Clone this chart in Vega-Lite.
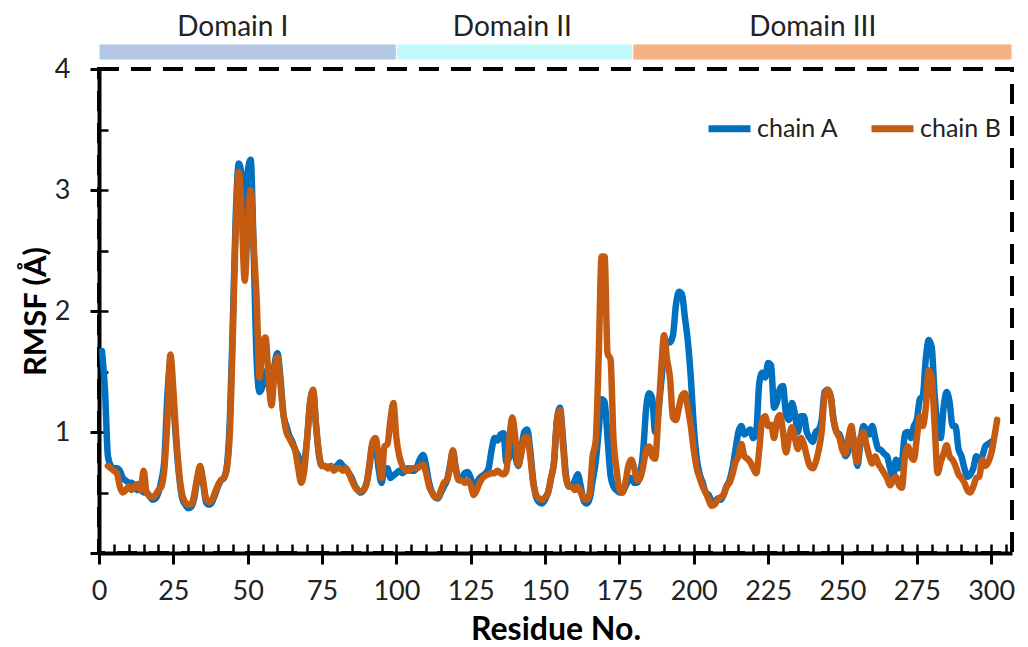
{
"$schema": "https://vega.github.io/schema/vega-lite/v6.json",
"width": 913, "height": 484,
"autosize": {"type": "none"},
"padding": {"left": 99, "top": 69, "right": 16, "bottom": 94},
"background": "white",
"config": {"font": "Lato", "view": {"stroke": "black", "strokeWidth": 4, "strokeDash": [20, 12]}, "axis": {"grid": false}},
"datasets": {
"domains": [
{"domain": "Domain I", "start": 0, "end": 100, "label_at": 45},
{"domain": "Domain II", "start": 100, "end": 179.5, "label_at": 139},
{"domain": "Domain III", "start": 179.5, "end": 307, "label_at": 240}
],
"rmsf": [
{"r":1,"c":"chain A","v":1.67},{"r":2,"c":"chain A","v":1.35},{"r":3,"c":"chain A","v":0.80},{"r":4,"c":"chain A","v":0.72},{"r":5,"c":"chain A","v":0.70},{"r":6,"c":"chain A","v":0.70},{"r":7,"c":"chain A","v":0.68},{"r":8,"c":"chain A","v":0.62},{"r":9,"c":"chain A","v":0.60},{"r":10,"c":"chain A","v":0.58},
{"r":11,"c":"chain A","v":0.58},{"r":12,"c":"chain A","v":0.55},{"r":13,"c":"chain A","v":0.52},{"r":14,"c":"chain A","v":0.52},{"r":15,"c":"chain A","v":0.50},{"r":16,"c":"chain A","v":0.50},{"r":17,"c":"chain A","v":0.47},{"r":18,"c":"chain A","v":0.44},{"r":19,"c":"chain A","v":0.45},{"r":20,"c":"chain A","v":0.50},
{"r":21,"c":"chain A","v":0.60},{"r":22,"c":"chain A","v":0.78},{"r":23,"c":"chain A","v":1.30},{"r":24,"c":"chain A","v":1.58},{"r":25,"c":"chain A","v":1.25},{"r":26,"c":"chain A","v":0.90},{"r":27,"c":"chain A","v":0.62},{"r":28,"c":"chain A","v":0.45},{"r":29,"c":"chain A","v":0.40},{"r":30,"c":"chain A","v":0.37},
{"r":31,"c":"chain A","v":0.38},{"r":32,"c":"chain A","v":0.45},{"r":33,"c":"chain A","v":0.60},{"r":34,"c":"chain A","v":0.70},{"r":35,"c":"chain A","v":0.58},{"r":36,"c":"chain A","v":0.42},{"r":37,"c":"chain A","v":0.40},{"r":38,"c":"chain A","v":0.42},{"r":39,"c":"chain A","v":0.48},{"r":40,"c":"chain A","v":0.55},
{"r":41,"c":"chain A","v":0.60},{"r":42,"c":"chain A","v":0.62},{"r":43,"c":"chain A","v":0.72},{"r":44,"c":"chain A","v":1.10},{"r":45,"c":"chain A","v":1.90},{"r":46,"c":"chain A","v":2.80},{"r":47,"c":"chain A","v":3.22},{"r":48,"c":"chain A","v":3.10},{"r":49,"c":"chain A","v":2.35},{"r":50,"c":"chain A","v":3.15},
{"r":51,"c":"chain A","v":3.25},{"r":52,"c":"chain A","v":2.50},{"r":53,"c":"chain A","v":1.60},{"r":54,"c":"chain A","v":1.33},{"r":55,"c":"chain A","v":1.38},{"r":56,"c":"chain A","v":1.50},{"r":57,"c":"chain A","v":1.40},{"r":58,"c":"chain A","v":1.30},{"r":59,"c":"chain A","v":1.55},{"r":60,"c":"chain A","v":1.65},
{"r":61,"c":"chain A","v":1.45},{"r":62,"c":"chain A","v":1.15},{"r":63,"c":"chain A","v":1.05},{"r":64,"c":"chain A","v":0.97},{"r":65,"c":"chain A","v":0.92},{"r":66,"c":"chain A","v":0.85},{"r":67,"c":"chain A","v":0.80},{"r":68,"c":"chain A","v":0.70},{"r":69,"c":"chain A","v":0.75},{"r":70,"c":"chain A","v":0.95},
{"r":71,"c":"chain A","v":1.25},{"r":72,"c":"chain A","v":1.33},{"r":73,"c":"chain A","v":1.05},{"r":74,"c":"chain A","v":0.80},{"r":75,"c":"chain A","v":0.72},{"r":76,"c":"chain A","v":0.72},{"r":77,"c":"chain A","v":0.70},{"r":78,"c":"chain A","v":0.72},{"r":79,"c":"chain A","v":0.70},{"r":80,"c":"chain A","v":0.72},
{"r":81,"c":"chain A","v":0.75},{"r":82,"c":"chain A","v":0.72},{"r":83,"c":"chain A","v":0.70},{"r":84,"c":"chain A","v":0.66},{"r":85,"c":"chain A","v":0.62},{"r":86,"c":"chain A","v":0.56},{"r":87,"c":"chain A","v":0.52},{"r":88,"c":"chain A","v":0.50},{"r":89,"c":"chain A","v":0.52},{"r":90,"c":"chain A","v":0.58},
{"r":91,"c":"chain A","v":0.72},{"r":92,"c":"chain A","v":0.90},{"r":93,"c":"chain A","v":0.90},{"r":94,"c":"chain A","v":0.70},{"r":95,"c":"chain A","v":0.58},{"r":96,"c":"chain A","v":0.70},{"r":97,"c":"chain A","v":0.70},{"r":98,"c":"chain A","v":0.62},{"r":99,"c":"chain A","v":0.64},{"r":100,"c":"chain A","v":0.66},
{"r":101,"c":"chain A","v":0.68},{"r":102,"c":"chain A","v":0.66},{"r":103,"c":"chain A","v":0.68},{"r":104,"c":"chain A","v":0.70},{"r":105,"c":"chain A","v":0.68},{"r":106,"c":"chain A","v":0.68},{"r":107,"c":"chain A","v":0.72},{"r":108,"c":"chain A","v":0.78},{"r":109,"c":"chain A","v":0.81},{"r":110,"c":"chain A","v":0.72},
{"r":111,"c":"chain A","v":0.58},{"r":112,"c":"chain A","v":0.50},{"r":113,"c":"chain A","v":0.46},{"r":114,"c":"chain A","v":0.45},{"r":115,"c":"chain A","v":0.50},{"r":116,"c":"chain A","v":0.55},{"r":117,"c":"chain A","v":0.60},{"r":118,"c":"chain A","v":0.72},{"r":119,"c":"chain A","v":0.84},{"r":120,"c":"chain A","v":0.70},
{"r":121,"c":"chain A","v":0.62},{"r":122,"c":"chain A","v":0.62},{"r":123,"c":"chain A","v":0.66},{"r":124,"c":"chain A","v":0.67},{"r":125,"c":"chain A","v":0.62},{"r":126,"c":"chain A","v":0.55},{"r":127,"c":"chain A","v":0.58},{"r":128,"c":"chain A","v":0.62},{"r":129,"c":"chain A","v":0.64},{"r":130,"c":"chain A","v":0.66},
{"r":131,"c":"chain A","v":0.70},{"r":132,"c":"chain A","v":0.85},{"r":133,"c":"chain A","v":0.95},{"r":134,"c":"chain A","v":0.93},{"r":135,"c":"chain A","v":0.98},{"r":136,"c":"chain A","v":0.99},{"r":137,"c":"chain A","v":0.75},{"r":138,"c":"chain A","v":0.80},{"r":139,"c":"chain A","v":0.95},{"r":140,"c":"chain A","v":0.80},
{"r":141,"c":"chain A","v":0.72},{"r":142,"c":"chain A","v":0.85},{"r":143,"c":"chain A","v":1.00},{"r":144,"c":"chain A","v":1.02},{"r":145,"c":"chain A","v":0.85},{"r":146,"c":"chain A","v":0.60},{"r":147,"c":"chain A","v":0.46},{"r":148,"c":"chain A","v":0.42},{"r":149,"c":"chain A","v":0.41},{"r":150,"c":"chain A","v":0.44},
{"r":151,"c":"chain A","v":0.50},{"r":152,"c":"chain A","v":0.62},{"r":153,"c":"chain A","v":0.75},{"r":154,"c":"chain A","v":1.10},{"r":155,"c":"chain A","v":1.20},{"r":156,"c":"chain A","v":0.95},{"r":157,"c":"chain A","v":0.65},{"r":158,"c":"chain A","v":0.55},{"r":159,"c":"chain A","v":0.55},{"r":160,"c":"chain A","v":0.60},
{"r":161,"c":"chain A","v":0.65},{"r":162,"c":"chain A","v":0.55},{"r":163,"c":"chain A","v":0.43},{"r":164,"c":"chain A","v":0.41},{"r":165,"c":"chain A","v":0.45},{"r":166,"c":"chain A","v":0.60},{"r":167,"c":"chain A","v":0.75},{"r":168,"c":"chain A","v":1.00},{"r":169,"c":"chain A","v":1.27},{"r":170,"c":"chain A","v":1.25},
{"r":171,"c":"chain A","v":0.95},{"r":172,"c":"chain A","v":0.64},{"r":173,"c":"chain A","v":0.55},{"r":174,"c":"chain A","v":0.52},{"r":175,"c":"chain A","v":0.50},{"r":176,"c":"chain A","v":0.50},{"r":177,"c":"chain A","v":0.55},{"r":178,"c":"chain A","v":0.60},{"r":179,"c":"chain A","v":0.62},{"r":180,"c":"chain A","v":0.58},
{"r":181,"c":"chain A","v":0.58},{"r":182,"c":"chain A","v":0.65},{"r":183,"c":"chain A","v":0.85},{"r":184,"c":"chain A","v":1.20},{"r":185,"c":"chain A","v":1.32},{"r":186,"c":"chain A","v":1.28},{"r":187,"c":"chain A","v":1.00},{"r":188,"c":"chain A","v":1.15},{"r":189,"c":"chain A","v":1.40},{"r":190,"c":"chain A","v":1.65},
{"r":191,"c":"chain A","v":1.75},{"r":192,"c":"chain A","v":1.74},{"r":193,"c":"chain A","v":1.80},{"r":194,"c":"chain A","v":2.05},{"r":195,"c":"chain A","v":2.16},{"r":196,"c":"chain A","v":2.14},{"r":197,"c":"chain A","v":1.95},{"r":198,"c":"chain A","v":1.75},{"r":199,"c":"chain A","v":1.45},{"r":200,"c":"chain A","v":1.05},
{"r":201,"c":"chain A","v":0.78},{"r":202,"c":"chain A","v":0.65},{"r":203,"c":"chain A","v":0.58},{"r":204,"c":"chain A","v":0.50},{"r":205,"c":"chain A","v":0.48},{"r":206,"c":"chain A","v":0.43},{"r":207,"c":"chain A","v":0.42},{"r":208,"c":"chain A","v":0.45},{"r":209,"c":"chain A","v":0.44},{"r":210,"c":"chain A","v":0.48},
{"r":211,"c":"chain A","v":0.55},{"r":212,"c":"chain A","v":0.60},{"r":213,"c":"chain A","v":0.70},{"r":214,"c":"chain A","v":0.85},{"r":215,"c":"chain A","v":1.00},{"r":216,"c":"chain A","v":1.05},{"r":217,"c":"chain A","v":0.98},{"r":218,"c":"chain A","v":1.00},{"r":219,"c":"chain A","v":1.02},{"r":220,"c":"chain A","v":0.95},
{"r":221,"c":"chain A","v":1.00},{"r":222,"c":"chain A","v":1.40},{"r":223,"c":"chain A","v":1.49},{"r":224,"c":"chain A","v":1.45},{"r":225,"c":"chain A","v":1.57},{"r":226,"c":"chain A","v":1.55},{"r":227,"c":"chain A","v":1.20},{"r":228,"c":"chain A","v":1.25},{"r":229,"c":"chain A","v":1.36},{"r":230,"c":"chain A","v":1.38},
{"r":231,"c":"chain A","v":1.15},{"r":232,"c":"chain A","v":1.10},{"r":233,"c":"chain A","v":1.24},{"r":234,"c":"chain A","v":1.15},{"r":235,"c":"chain A","v":1.00},{"r":236,"c":"chain A","v":1.13},{"r":237,"c":"chain A","v":1.13},{"r":238,"c":"chain A","v":1.00},{"r":239,"c":"chain A","v":0.95},{"r":240,"c":"chain A","v":0.92},
{"r":241,"c":"chain A","v":1.00},{"r":242,"c":"chain A","v":1.02},{"r":243,"c":"chain A","v":1.10},{"r":244,"c":"chain A","v":1.33},{"r":245,"c":"chain A","v":1.35},{"r":246,"c":"chain A","v":1.30},{"r":247,"c":"chain A","v":1.10},{"r":248,"c":"chain A","v":1.00},{"r":249,"c":"chain A","v":0.98},{"r":250,"c":"chain A","v":0.90},
{"r":251,"c":"chain A","v":0.80},{"r":252,"c":"chain A","v":0.85},{"r":253,"c":"chain A","v":1.00},{"r":254,"c":"chain A","v":0.90},{"r":255,"c":"chain A","v":0.72},{"r":256,"c":"chain A","v":0.90},{"r":257,"c":"chain A","v":1.05},{"r":258,"c":"chain A","v":1.02},{"r":259,"c":"chain A","v":0.98},{"r":260,"c":"chain A","v":1.05},
{"r":261,"c":"chain A","v":0.95},{"r":262,"c":"chain A","v":0.86},{"r":263,"c":"chain A","v":0.85},{"r":264,"c":"chain A","v":0.82},{"r":265,"c":"chain A","v":0.80},{"r":266,"c":"chain A","v":0.70},{"r":267,"c":"chain A","v":0.63},{"r":268,"c":"chain A","v":0.77},{"r":269,"c":"chain A","v":0.70},{"r":270,"c":"chain A","v":0.75},
{"r":271,"c":"chain A","v":0.99},{"r":272,"c":"chain A","v":1.00},{"r":273,"c":"chain A","v":0.95},{"r":274,"c":"chain A","v":1.05},{"r":275,"c":"chain A","v":1.10},{"r":276,"c":"chain A","v":1.27},{"r":277,"c":"chain A","v":1.30},{"r":278,"c":"chain A","v":1.60},{"r":279,"c":"chain A","v":1.76},{"r":280,"c":"chain A","v":1.70},
{"r":281,"c":"chain A","v":1.30},{"r":282,"c":"chain A","v":1.05},{"r":283,"c":"chain A","v":0.95},{"r":284,"c":"chain A","v":1.20},{"r":285,"c":"chain A","v":1.33},{"r":286,"c":"chain A","v":1.25},{"r":287,"c":"chain A","v":1.05},{"r":288,"c":"chain A","v":1.05},{"r":289,"c":"chain A","v":0.86},{"r":290,"c":"chain A","v":0.80},
{"r":291,"c":"chain A","v":0.70},{"r":292,"c":"chain A","v":0.63},{"r":293,"c":"chain A","v":0.65},{"r":294,"c":"chain A","v":0.70},{"r":295,"c":"chain A","v":0.80},{"r":296,"c":"chain A","v":0.77},{"r":297,"c":"chain A","v":0.80},{"r":298,"c":"chain A","v":0.88},{"r":299,"c":"chain A","v":0.90},{"r":300,"c":"chain A","v":0.92},
{"r":3,"c":"chain B","v":0.72},{"r":4,"c":"chain B","v":0.70},{"r":5,"c":"chain B","v":0.68},{"r":6,"c":"chain B","v":0.66},{"r":7,"c":"chain B","v":0.55},{"r":8,"c":"chain B","v":0.50},{"r":9,"c":"chain B","v":0.52},{"r":10,"c":"chain B","v":0.55},
{"r":11,"c":"chain B","v":0.52},{"r":12,"c":"chain B","v":0.55},{"r":13,"c":"chain B","v":0.57},{"r":14,"c":"chain B","v":0.52},{"r":15,"c":"chain B","v":0.68},{"r":16,"c":"chain B","v":0.50},{"r":17,"c":"chain B","v":0.47},{"r":18,"c":"chain B","v":0.46},{"r":19,"c":"chain B","v":0.48},{"r":20,"c":"chain B","v":0.52},
{"r":21,"c":"chain B","v":0.55},{"r":22,"c":"chain B","v":0.70},{"r":23,"c":"chain B","v":1.10},{"r":24,"c":"chain B","v":1.64},{"r":25,"c":"chain B","v":1.35},{"r":26,"c":"chain B","v":0.95},{"r":27,"c":"chain B","v":0.65},{"r":28,"c":"chain B","v":0.48},{"r":29,"c":"chain B","v":0.42},{"r":30,"c":"chain B","v":0.40},
{"r":31,"c":"chain B","v":0.40},{"r":32,"c":"chain B","v":0.48},{"r":33,"c":"chain B","v":0.62},{"r":34,"c":"chain B","v":0.72},{"r":35,"c":"chain B","v":0.60},{"r":36,"c":"chain B","v":0.45},{"r":37,"c":"chain B","v":0.42},{"r":38,"c":"chain B","v":0.44},{"r":39,"c":"chain B","v":0.50},{"r":40,"c":"chain B","v":0.56},
{"r":41,"c":"chain B","v":0.60},{"r":42,"c":"chain B","v":0.62},{"r":43,"c":"chain B","v":0.70},{"r":44,"c":"chain B","v":1.00},{"r":45,"c":"chain B","v":1.80},{"r":46,"c":"chain B","v":2.70},{"r":47,"c":"chain B","v":3.15},{"r":48,"c":"chain B","v":2.80},{"r":49,"c":"chain B","v":2.25},{"r":50,"c":"chain B","v":2.70},
{"r":51,"c":"chain B","v":3.00},{"r":52,"c":"chain B","v":2.55},{"r":53,"c":"chain B","v":2.10},{"r":54,"c":"chain B","v":1.45},{"r":55,"c":"chain B","v":1.75},{"r":56,"c":"chain B","v":1.78},{"r":57,"c":"chain B","v":1.45},{"r":58,"c":"chain B","v":1.22},{"r":59,"c":"chain B","v":1.50},{"r":60,"c":"chain B","v":1.62},
{"r":61,"c":"chain B","v":1.40},{"r":62,"c":"chain B","v":1.15},{"r":63,"c":"chain B","v":1.00},{"r":64,"c":"chain B","v":0.95},{"r":65,"c":"chain B","v":0.90},{"r":66,"c":"chain B","v":0.85},{"r":67,"c":"chain B","v":0.70},{"r":68,"c":"chain B","v":0.58},{"r":69,"c":"chain B","v":0.68},{"r":70,"c":"chain B","v":0.95},
{"r":71,"c":"chain B","v":1.25},{"r":72,"c":"chain B","v":1.35},{"r":73,"c":"chain B","v":1.05},{"r":74,"c":"chain B","v":0.82},{"r":75,"c":"chain B","v":0.72},{"r":76,"c":"chain B","v":0.72},{"r":77,"c":"chain B","v":0.70},{"r":78,"c":"chain B","v":0.72},{"r":79,"c":"chain B","v":0.68},{"r":80,"c":"chain B","v":0.70},
{"r":81,"c":"chain B","v":0.70},{"r":82,"c":"chain B","v":0.68},{"r":83,"c":"chain B","v":0.70},{"r":84,"c":"chain B","v":0.66},{"r":85,"c":"chain B","v":0.60},{"r":86,"c":"chain B","v":0.55},{"r":87,"c":"chain B","v":0.52},{"r":88,"c":"chain B","v":0.51},{"r":89,"c":"chain B","v":0.52},{"r":90,"c":"chain B","v":0.58},
{"r":91,"c":"chain B","v":0.75},{"r":92,"c":"chain B","v":0.92},{"r":93,"c":"chain B","v":0.95},{"r":94,"c":"chain B","v":0.80},{"r":95,"c":"chain B","v":0.62},{"r":96,"c":"chain B","v":0.88},{"r":97,"c":"chain B","v":0.90},{"r":98,"c":"chain B","v":1.10},{"r":99,"c":"chain B","v":1.24},{"r":100,"c":"chain B","v":0.95},
{"r":101,"c":"chain B","v":0.80},{"r":102,"c":"chain B","v":0.72},{"r":103,"c":"chain B","v":0.68},{"r":104,"c":"chain B","v":0.68},{"r":105,"c":"chain B","v":0.70},{"r":106,"c":"chain B","v":0.70},{"r":107,"c":"chain B","v":0.70},{"r":108,"c":"chain B","v":0.72},{"r":109,"c":"chain B","v":0.73},{"r":110,"c":"chain B","v":0.66},
{"r":111,"c":"chain B","v":0.55},{"r":112,"c":"chain B","v":0.50},{"r":113,"c":"chain B","v":0.46},{"r":114,"c":"chain B","v":0.46},{"r":115,"c":"chain B","v":0.52},{"r":116,"c":"chain B","v":0.58},{"r":117,"c":"chain B","v":0.60},{"r":118,"c":"chain B","v":0.70},{"r":119,"c":"chain B","v":0.85},{"r":120,"c":"chain B","v":0.68},
{"r":121,"c":"chain B","v":0.60},{"r":122,"c":"chain B","v":0.60},{"r":123,"c":"chain B","v":0.58},{"r":124,"c":"chain B","v":0.60},{"r":125,"c":"chain B","v":0.56},{"r":126,"c":"chain B","v":0.48},{"r":127,"c":"chain B","v":0.52},{"r":128,"c":"chain B","v":0.58},{"r":129,"c":"chain B","v":0.62},{"r":130,"c":"chain B","v":0.64},
{"r":131,"c":"chain B","v":0.65},{"r":132,"c":"chain B","v":0.66},{"r":133,"c":"chain B","v":0.66},{"r":134,"c":"chain B","v":0.68},{"r":135,"c":"chain B","v":0.66},{"r":136,"c":"chain B","v":0.65},{"r":137,"c":"chain B","v":0.68},{"r":138,"c":"chain B","v":0.95},{"r":139,"c":"chain B","v":1.12},{"r":140,"c":"chain B","v":0.95},
{"r":141,"c":"chain B","v":0.73},{"r":142,"c":"chain B","v":0.82},{"r":143,"c":"chain B","v":0.95},{"r":144,"c":"chain B","v":0.96},{"r":145,"c":"chain B","v":0.80},{"r":146,"c":"chain B","v":0.58},{"r":147,"c":"chain B","v":0.48},{"r":148,"c":"chain B","v":0.45},{"r":149,"c":"chain B","v":0.44},{"r":150,"c":"chain B","v":0.46},
{"r":151,"c":"chain B","v":0.50},{"r":152,"c":"chain B","v":0.62},{"r":153,"c":"chain B","v":0.75},{"r":154,"c":"chain B","v":1.10},{"r":155,"c":"chain B","v":1.18},{"r":156,"c":"chain B","v":0.90},{"r":157,"c":"chain B","v":0.62},{"r":158,"c":"chain B","v":0.55},{"r":159,"c":"chain B","v":0.55},{"r":160,"c":"chain B","v":0.52},
{"r":161,"c":"chain B","v":0.55},{"r":162,"c":"chain B","v":0.50},{"r":163,"c":"chain B","v":0.45},{"r":164,"c":"chain B","v":0.44},{"r":165,"c":"chain B","v":0.50},{"r":166,"c":"chain B","v":0.80},{"r":167,"c":"chain B","v":0.92},{"r":168,"c":"chain B","v":1.60},{"r":169,"c":"chain B","v":2.45},{"r":170,"c":"chain B","v":2.45},
{"r":171,"c":"chain B","v":1.65},{"r":172,"c":"chain B","v":1.60},{"r":173,"c":"chain B","v":0.94},{"r":174,"c":"chain B","v":0.70},{"r":175,"c":"chain B","v":0.52},{"r":176,"c":"chain B","v":0.50},{"r":177,"c":"chain B","v":0.58},{"r":178,"c":"chain B","v":0.72},{"r":179,"c":"chain B","v":0.77},{"r":180,"c":"chain B","v":0.70},
{"r":181,"c":"chain B","v":0.60},{"r":182,"c":"chain B","v":0.62},{"r":183,"c":"chain B","v":0.72},{"r":184,"c":"chain B","v":0.85},{"r":185,"c":"chain B","v":0.88},{"r":186,"c":"chain B","v":0.80},{"r":187,"c":"chain B","v":0.78},{"r":188,"c":"chain B","v":1.10},{"r":189,"c":"chain B","v":1.50},{"r":190,"c":"chain B","v":1.80},
{"r":191,"c":"chain B","v":1.60},{"r":192,"c":"chain B","v":1.45},{"r":193,"c":"chain B","v":1.12},{"r":194,"c":"chain B","v":1.10},{"r":195,"c":"chain B","v":1.20},{"r":196,"c":"chain B","v":1.30},{"r":197,"c":"chain B","v":1.32},{"r":198,"c":"chain B","v":1.20},{"r":199,"c":"chain B","v":1.05},{"r":200,"c":"chain B","v":0.85},
{"r":201,"c":"chain B","v":0.70},{"r":202,"c":"chain B","v":0.62},{"r":203,"c":"chain B","v":0.55},{"r":204,"c":"chain B","v":0.50},{"r":205,"c":"chain B","v":0.44},{"r":206,"c":"chain B","v":0.39},{"r":207,"c":"chain B","v":0.40},{"r":208,"c":"chain B","v":0.44},{"r":209,"c":"chain B","v":0.46},{"r":210,"c":"chain B","v":0.48},
{"r":211,"c":"chain B","v":0.55},{"r":212,"c":"chain B","v":0.58},{"r":213,"c":"chain B","v":0.65},{"r":214,"c":"chain B","v":0.75},{"r":215,"c":"chain B","v":0.80},{"r":216,"c":"chain B","v":0.90},{"r":217,"c":"chain B","v":0.80},{"r":218,"c":"chain B","v":0.78},{"r":219,"c":"chain B","v":0.75},{"r":220,"c":"chain B","v":0.70},
{"r":221,"c":"chain B","v":0.66},{"r":222,"c":"chain B","v":0.85},{"r":223,"c":"chain B","v":1.10},{"r":224,"c":"chain B","v":1.13},{"r":225,"c":"chain B","v":1.05},{"r":226,"c":"chain B","v":1.06},{"r":227,"c":"chain B","v":0.95},{"r":228,"c":"chain B","v":1.10},{"r":229,"c":"chain B","v":1.14},{"r":230,"c":"chain B","v":1.00},
{"r":231,"c":"chain B","v":0.83},{"r":232,"c":"chain B","v":0.95},{"r":233,"c":"chain B","v":1.04},{"r":234,"c":"chain B","v":0.95},{"r":235,"c":"chain B","v":0.86},{"r":236,"c":"chain B","v":0.95},{"r":237,"c":"chain B","v":0.90},{"r":238,"c":"chain B","v":0.80},{"r":239,"c":"chain B","v":0.72},{"r":240,"c":"chain B","v":0.70},
{"r":241,"c":"chain B","v":0.75},{"r":242,"c":"chain B","v":0.85},{"r":243,"c":"chain B","v":1.00},{"r":244,"c":"chain B","v":1.30},{"r":245,"c":"chain B","v":1.35},{"r":246,"c":"chain B","v":1.30},{"r":247,"c":"chain B","v":1.10},{"r":248,"c":"chain B","v":1.00},{"r":249,"c":"chain B","v":0.95},{"r":250,"c":"chain B","v":0.85},
{"r":251,"c":"chain B","v":0.82},{"r":252,"c":"chain B","v":0.95},{"r":253,"c":"chain B","v":1.05},{"r":254,"c":"chain B","v":0.85},{"r":255,"c":"chain B","v":0.75},{"r":256,"c":"chain B","v":0.95},{"r":257,"c":"chain B","v":1.00},{"r":258,"c":"chain B","v":0.90},{"r":259,"c":"chain B","v":0.80},{"r":260,"c":"chain B","v":0.74},
{"r":261,"c":"chain B","v":0.80},{"r":262,"c":"chain B","v":0.74},{"r":263,"c":"chain B","v":0.70},{"r":264,"c":"chain B","v":0.66},{"r":265,"c":"chain B","v":0.62},{"r":266,"c":"chain B","v":0.56},{"r":267,"c":"chain B","v":0.60},{"r":268,"c":"chain B","v":0.63},{"r":269,"c":"chain B","v":0.56},{"r":270,"c":"chain B","v":0.54},
{"r":271,"c":"chain B","v":0.80},{"r":272,"c":"chain B","v":0.88},{"r":273,"c":"chain B","v":0.80},{"r":274,"c":"chain B","v":0.77},{"r":275,"c":"chain B","v":0.95},{"r":276,"c":"chain B","v":1.13},{"r":277,"c":"chain B","v":1.05},{"r":278,"c":"chain B","v":1.20},{"r":279,"c":"chain B","v":1.51},{"r":280,"c":"chain B","v":1.45},
{"r":281,"c":"chain B","v":1.05},{"r":282,"c":"chain B","v":0.66},{"r":283,"c":"chain B","v":0.75},{"r":284,"c":"chain B","v":0.82},{"r":285,"c":"chain B","v":0.89},{"r":286,"c":"chain B","v":0.80},{"r":287,"c":"chain B","v":0.77},{"r":288,"c":"chain B","v":0.72},{"r":289,"c":"chain B","v":0.65},{"r":290,"c":"chain B","v":0.62},
{"r":291,"c":"chain B","v":0.58},{"r":292,"c":"chain B","v":0.52},{"r":293,"c":"chain B","v":0.50},{"r":294,"c":"chain B","v":0.55},{"r":295,"c":"chain B","v":0.62},{"r":296,"c":"chain B","v":0.63},{"r":297,"c":"chain B","v":0.77},{"r":298,"c":"chain B","v":0.72},{"r":299,"c":"chain B","v":0.75},{"r":300,"c":"chain B","v":0.82},
{"r":301,"c":"chain B","v":0.95},{"r":302,"c":"chain B","v":1.10}
]
},
"layer": [
{
"data": {"name": "domains"},
"mark": {"type": "rect", "stroke": "white", "strokeWidth": 1},
"encoding": {
"x": {"field": "start", "type": "quantitative", "scale": {"domain": [0, 307], "nice": false, "zero": false},
"axis": {"orient": "bottom", "values": [0,5,10,15,20,25,30,35,40,45,50,55,60,65,70,75,80,85,90,95,100,105,110,115,120,125,130,135,140,145,150,155,160,165,170,175,180,185,190,195,200,205,210,215,220,225,230,235,240,245,250,255,260,265,270,275,280,285,290,295,300,305], "labels": false, "domain": false, "title": null, "tickSize": -9, "tickWidth": 2.5, "tickColor": "black"}},
"x2": {"field": "end"},
"y": {"datum": 4.074, "type": "quantitative", "scale": {"domain": [0, 4], "nice": false, "zero": true},
"axis": {"orient": "left", "values": [0.5,1,1.5,2,2.5,3,3.5,4], "labels": false, "domain": false, "title": null, "tickSize": -9, "tickWidth": 2.5, "tickColor": "black"}},
"y2": {"datum": 4.207},
"color": {"field": "domain", "type": "nominal", "scale": {"domain": ["Domain I", "Domain II", "Domain III"], "range": ["#b4c7e7", "#c1fafa", "#f4b183"]}, "legend": null}
}
},
{
"data": {"name": "domains"},
"mark": {"type": "text", "fontSize": 28, "color": "#222", "baseline": "middle", "align": "center"},
"encoding": {
"x": {"field": "label_at", "type": "quantitative", "axis": null},
"y": {"datum": 4.335, "type": "quantitative", "axis": null},
"text": {"field": "domain"}
}
},
{
"data": {"name": "rmsf"},
"mark": {"type": "line", "strokeWidth": 6.5, "interpolate": "monotone", "strokeCap": "round", "strokeJoin": "round"},
"encoding": {
"x": {"field": "r", "type": "quantitative",
"axis": {"orient": "bottom", "values": [0,25,50,75,100,125,150,175,200,225,250,275,300], "labelFlush": false, "labelOverlap": false, "labelFontSize": 27, "labelColor": "#222", "labelPadding": 14, "tickSize": 11, "tickWidth": 3, "tickColor": "black", "domainColor": "black", "domainWidth": 4, "title": "Residue No.", "titleFontSize": 32, "titleFontWeight": "bold", "titleColor": "black", "titlePadding": 10}},
"y": {"field": "v", "type": "quantitative",
"axis": {"orient": "left", "values": [0,1,2,3,4], "labelExpr": "datum.value == 0 ? '' : datum.label", "labelFlush": false, "labelOverlap": false, "labelFontSize": 27, "labelColor": "#222", "labelPadding": 20, "tickSize": 9, "tickWidth": 3, "tickColor": "black", "domainColor": "black", "domainWidth": 4, "title": "RMSF (Å)", "titleFontSize": 31, "titleFontWeight": "bold", "titleColor": "black", "titlePadding": 2}},
"color": {"field": "c", "type": "nominal", "scale": {"domain": ["chain A", "chain B"], "range": ["#0070c0", "#c55a11"]},
"legend": {"title": null, "orient": "none", "legendX": 606, "legendY": 35, "direction": "horizontal", "symbolType": "stroke", "symbolSize": 1764, "symbolStrokeWidth": 7, "labelFontSize": 25, "labelColor": "#222", "labelFont": "Lato", "columnPadding": 18, "labelOffset": 3}}
}
}
],
"resolve": {"scale": {"color": "independent"}, "axis": {"x": "independent", "y": "independent"}}
}
